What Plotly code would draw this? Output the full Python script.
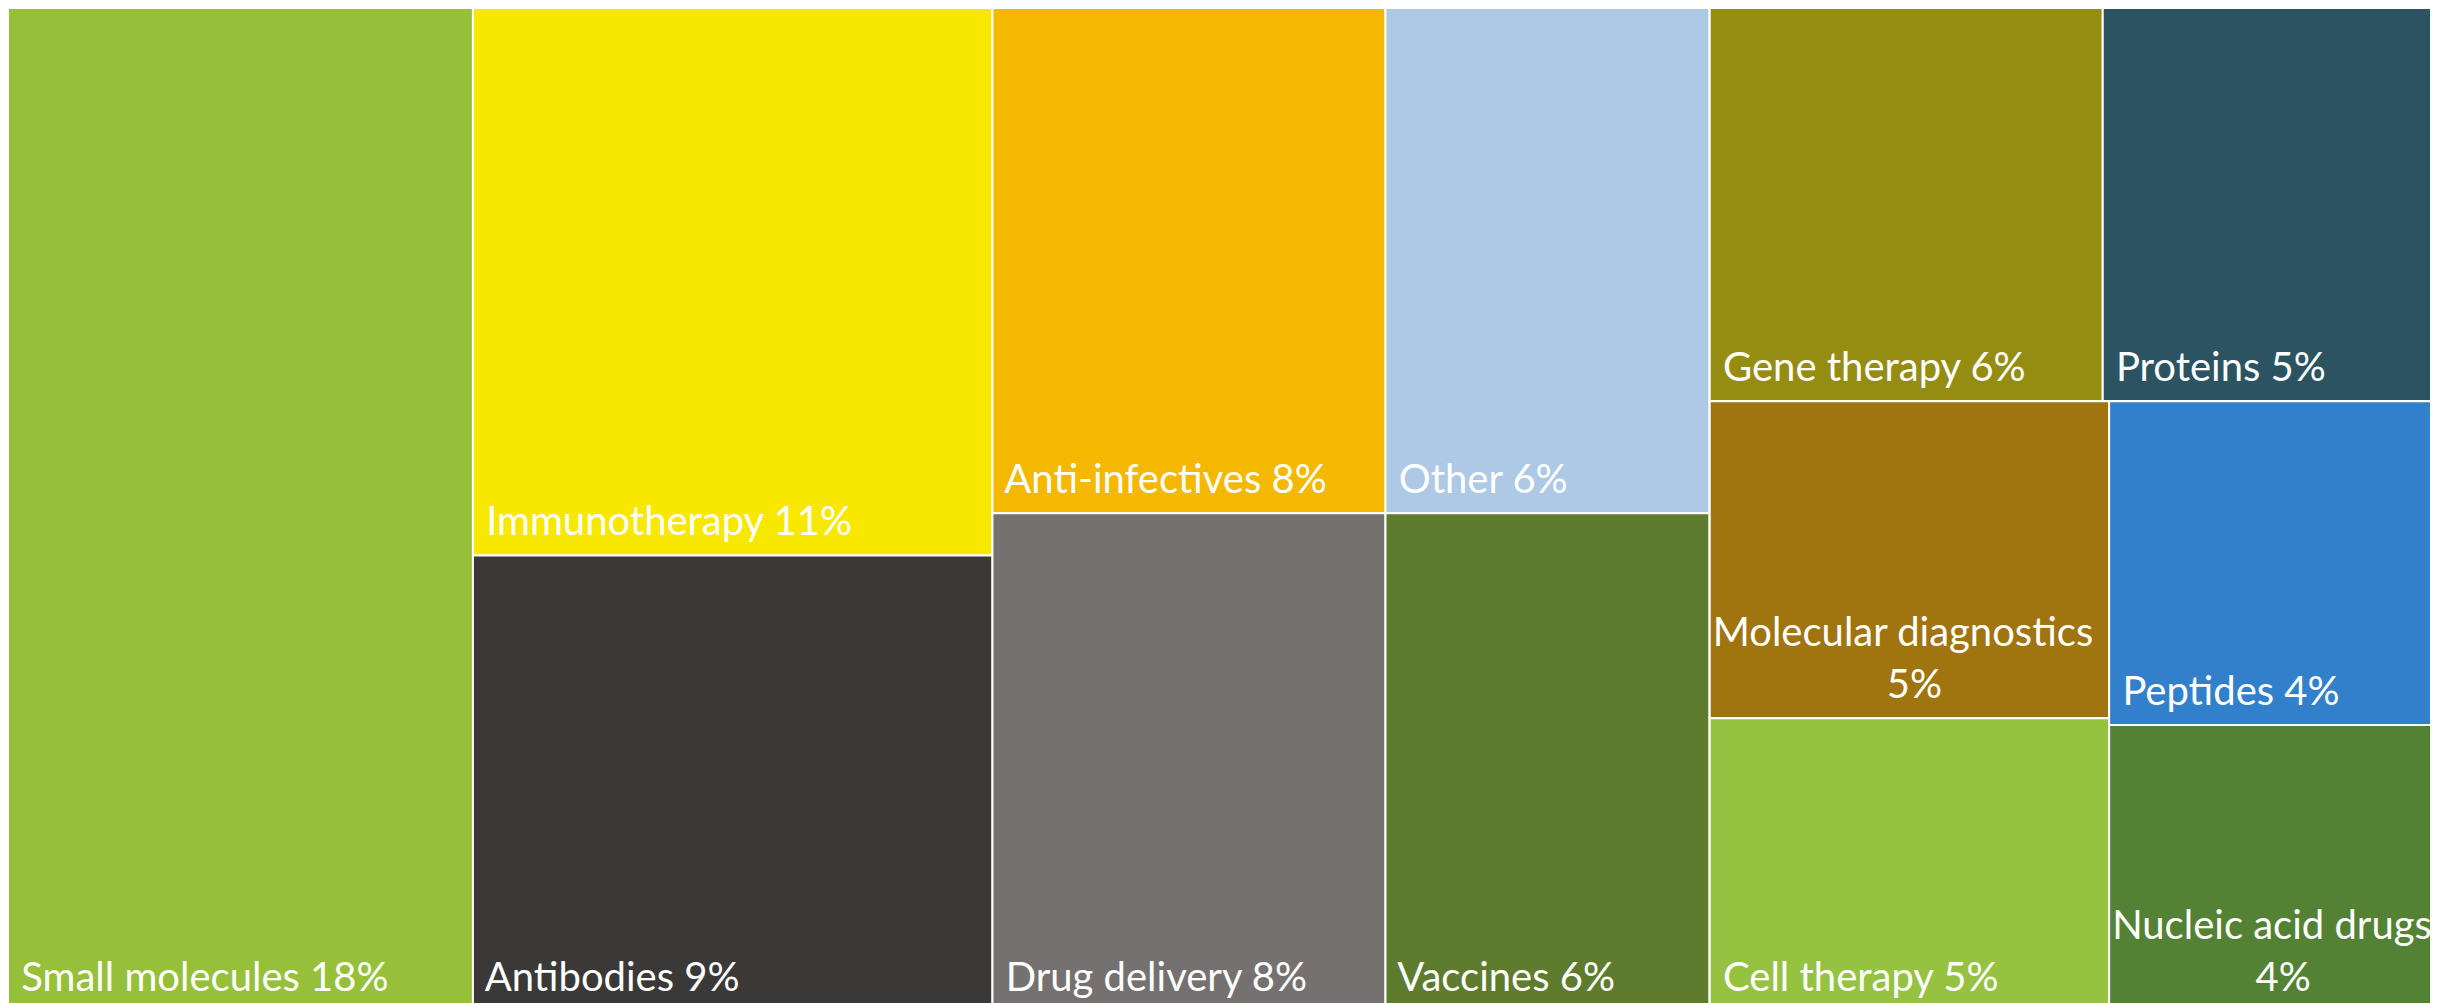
import plotly.graph_objects as go

# ---- data (shares read from the tile areas) ----
categories = ["Small molecules", "Immunotherapy", "Antibodies", "Anti-infectives",
              "Drug delivery", "Other", "Vaccines", "Gene therapy", "Proteins",
              "Molecular diagnostics", "Cell therapy", "Peptides", "Nucleic acid drugs"]
values = [19.07, 11.63, 9.68, 8.12, 8.00, 6.70, 6.60, 6.32, 5.52, 5.18, 4.78, 4.46, 3.94]
pct_labels = ["18%", "11%", "9%", "8%", "8%", "6%", "6%", "6%", "5%", "5%", "5%", "4%", "4%"]
colors = ["#97c03a", "#f8e800", "#3a3938", "#f4b800", "#767171", "#adc9e6", "#5e7b2e",
          "#958c12", "#2b5362", "#a0740f", "#95c341", "#3280cc", "#548235"]
# group each category belongs to (layout hierarchy of the treemap)
group_of = ["g1", "g2", "g2", "g3", "g3", "g4", "g4", "r1", "r1", "k1", "k1", "k2", "k2"]
groups = {"g1": "root", "g2": "root", "g3": "root", "g4": "root", "g5": "root",
          "r1": "g5", "r2": "g5", "k1": "r2", "k2": "r2"}
two_line = {"Molecular diagnostics": "\u00a0" * 17, "Nucleic acid drugs": "\u00a0" * 14}

NB = "\u00a0"
TAIL = "<span style='font-size:78px'>" + NB + "</span>"

ids, parents, labels, vals, texts, cols = ["root"], [""], [""], [0], [""], ["#ffffff"]
for g, p in groups.items():
    ids.append(g); parents.append(p); labels.append(""); vals.append(0); texts.append(""); cols.append("#ffffff")
for c, v, pl, col, g in zip(categories, values, pct_labels, colors, group_of):
    ids.append(c); parents.append(g); labels.append(c); vals.append(v); cols.append(col)
    if c in two_line:
        texts.append(f"{c}<br>{two_line[c]}{pl}{TAIL}")
    else:
        texts.append(f"{NB}{c} {pl}{TAIL}")

fig = go.Figure(go.Treemap(
    ids=ids, parents=parents, labels=labels, values=vals, text=texts,
    branchvalues="remainder", sort=False,
    textinfo="text", textposition="bottom left",
    textfont=dict(family="Lato", size=40, color="white"),
    tiling=dict(packing="slice-dice", pad=0),
    marker=dict(colors=cols, line=dict(color="white", width=2),
                pad=dict(t=0, l=0, r=0, b=0)),
    pathbar=dict(visible=False),
    hoverinfo="skip",
))
fig.update_layout(width=2438, height=1003, margin=dict(l=0, r=0, t=0, b=0),
                  paper_bgcolor="white", showlegend=False)
fig.write_html("out.html")
